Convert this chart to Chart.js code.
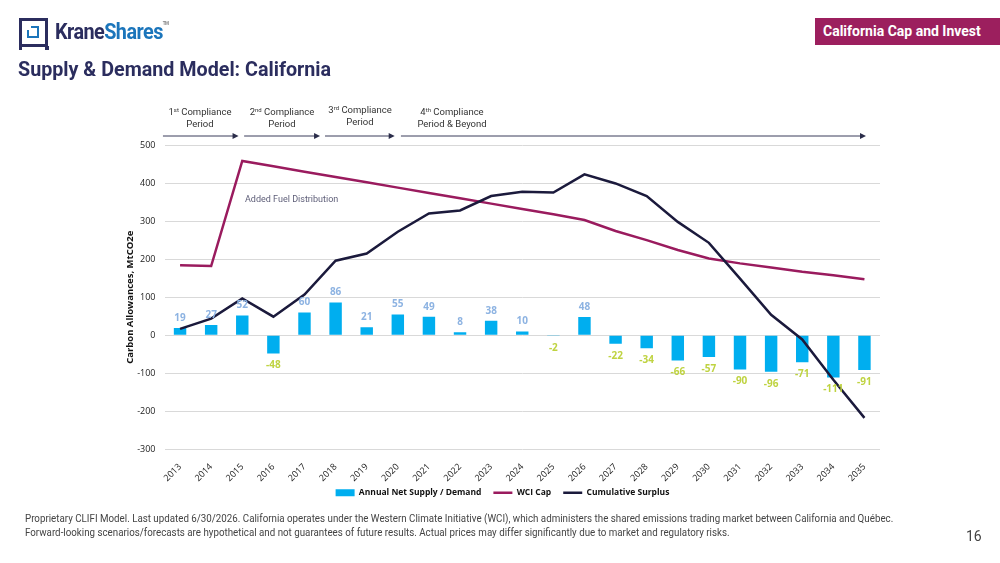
<!DOCTYPE html>
<html>
<head>
<meta charset="utf-8">
<script src="https://cdn.jsdelivr.net/npm/chart.js@4.4.1/dist/chart.umd.min.js"></script>
<style>
  body { margin: 0; background: #fff; }
  #page { position: relative; width: 1000px; height: 563px; overflow: hidden; font-family: Roboto, "Noto Sans", sans-serif; }
  #chartBox { position: absolute; left: 0; top: 0; width: 1000px; height: 563px; }
  .abs { position: absolute; white-space: nowrap; }
  .logo { left: 19px; top: 18px; width: 29px; height: 29px; border: 3.5px solid #2b2d5e; border-bottom-width: 3px; box-sizing: border-box; }
  .logo .sq { position: absolute; left: 5px; top: 5px; width: 12px; height: 12px; border: 2.5px solid #1b75bb; box-sizing: border-box; }
  .logo .gap { position: absolute; left: 4px; top: 4px; width: 5px; height: 5px; background: #fff; }
  .logo .leg1, .logo .leg2 { position: absolute; bottom: -6px; width: 3.5px; height: 4px; background: #2b2d5e; }
  .logo .leg1 { left: -3.5px; } .logo .leg2 { right: -3.5px; }
  .brand { left: 55px; top: 19px; font-size: 22px; font-weight: 700; color: #2b2d5e; letter-spacing: -0.6px; transform: scaleX(0.9); transform-origin: left center; }
  .brand span { color: #1b75bb; }
  .brand sup { font-size: 5px; color: #888; vertical-align: 14px; }
  .title { left: 18px; top: 57px; font-size: 20px; font-weight: 700; color: #2b2d5e; transform: scaleX(0.985); transform-origin: left center; }
  .tag { left: 815px; top: 18px; width: 185px; height: 27px; background: #9c1f5e; color: #fff; font-size: 14px; font-weight: 700; line-height: 27px; padding-left: 8px; box-sizing: border-box; }
  .cp { font-size: 9.5px; color: #333; text-align: center; line-height: 11.5px; transform: translateX(-50%); }
  .cp sup { font-size: 6px; vertical-align: 3px; line-height: 0; }
  .fuel { left: 245px; top: 194px; font-size: 9px; color: #5e5e78; }
  .foot { left: 25px; top: 512px; font-size: 10.5px; color: #444; line-height: 13.5px; transform: scaleX(0.93); transform-origin: left top; }
  .pg { left: 966px; top: 528px; font-size: 14px; color: #444; }
</style>
</head>
<body>
<div id="page">
  <div id="chartBox"><canvas id="chart"></canvas></div>
  <div class="abs logo"><div class="sq"></div><div class="gap"></div><div class="leg1"></div><div class="leg2"></div></div>
  <div class="abs brand">Krane<span>Shares</span><sup>TM</sup></div>
  <div class="abs title">Supply &amp; Demand Model: California</div>
  <div class="abs tag">California Cap and Invest</div>
  <div class="abs cp" style="left:200px;top:106px;">1<sup>st</sup> Compliance<br>Period</div>
  <div class="abs cp" style="left:282px;top:106px;">2<sup>nd</sup> Compliance<br>Period</div>
  <div class="abs cp" style="left:360px;top:104px;">3<sup>rd</sup> Compliance<br>Period</div>
  <div class="abs cp" style="left:452px;top:106px;">4<sup>th</sup> Compliance<br>Period &amp; Beyond</div>
  <div class="abs fuel">Added Fuel Distribution</div>
  <div class="abs foot">Proprietary CLIFI Model. Last updated 6/30/2026. California operates under the Western Climate Initiative (WCI), which administers the shared emissions trading market between California and Québec.<br>Forward-looking scenarios/forecasts are hypothetical and not guarantees of future results. Actual prices may differ significantly due to market and regulatory risks.</div>
  <div class="abs pg">16</div>
</div>
<script>
// years on the x axis
var years = ["2013", "2014", "2015", "2016", "2017", "2018", "2019", "2020", "2021", "2022", "2023", "2024",
  "2025", "2026", "2027", "2028", "2029", "2030", "2031", "2032", "2033", "2034", "2035"];

// annual net supply / demand (bars)
var netSupply = [19, 27, 52, -48, 60, 86, 21, 55, 49, 8, 38, 10, -2, 48, -22, -34, -66, -57, -90, -96, -71, -111, -91];

// WCI cap (line)
var wciCap = [184, 182, 458, 444, 430, 416, 402, 388, 374, 360, 346, 332, 318, 303, 274, 250, 224, 202, 189, 178, 167, 158, 147];

// cumulative surplus (line)
var cumSurplus = [17, 44, 97, 49, 107, 196, 215, 272, 320, 328, 366, 377, 375, 423, 399, 366, 298, 243, 149, 54, -11, -117, -217];

// y axis ticks
var yTicks = [-300, -200, -100, 0, 100, 200, 300, 400, 500];

// compliance period arrows, in category index units
var periodStart = [-0.55, 2.06, 4.66, 7.1];
var periodEnd = [1.88, 4.5, 6.9, 22.05];

// etichette sopra / sotto le barre
var barLabels = {
  id: "barLabels",
  beforeDraw: function(chart) {
    // le etichette ruotate dell'asse x non devono essere tagliate
    chart.scales.x._computeLabelArea = function() { return null; };
  },
  afterDatasetsDraw: function(chart) {
    var ctx = chart.ctx;
    var meta = chart.getDatasetMeta(0);
    ctx.save();
    ctx.font = "bold 10px 'Open Sans', sans-serif";
    ctx.textAlign = "center";
    ctx.textBaseline = "middle";
    meta.data.forEach(function(bar, i) {
      var v = netSupply[i];
      if (v >= 0) {
        ctx.fillStyle = "#8db3e2";
        ctx.fillText(v, bar.x, bar.y - 10);
      } else {
        ctx.fillStyle = "#bfd341";
        ctx.fillText(v, bar.x, bar.y + 12);
      }
    });
    ctx.restore();
  }
};

// frecce dei periodi
var periodArrows = {
  id: "periodArrows",
  afterDraw: function(chart) {
    var ctx = chart.ctx;
    var xs = chart.scales.x;
    var x0 = xs.getPixelForValue(0);
    var step = xs.getPixelForValue(1) - x0;
    var y = 136;
    ctx.save();
    ctx.strokeStyle = "#3a3c5a";
    ctx.fillStyle = "#2b2d4a";
    ctx.lineWidth = 1;
    for (var i = 0; i < periodStart.length; i++) {
      var a = x0 + periodStart[i] * step;
      var b = x0 + periodEnd[i] * step;
      ctx.beginPath();
      ctx.moveTo(a, y);
      ctx.lineTo(b - 5, y);
      ctx.stroke();
      ctx.beginPath();
      ctx.moveTo(b, y);
      ctx.lineTo(b - 6, y - 3);
      ctx.lineTo(b - 6, y + 3);
      ctx.closePath();
      ctx.fill();
    }
    ctx.restore();
  }
};

var ctx = document.getElementById("chart").getContext("2d");
new Chart(ctx, {
  type: "bar",
  data: {
    labels: years,
    datasets: [{
      type: "bar",
      label: "Annual Net Supply / Demand",
      data: netSupply,
      backgroundColor: "#00aeef",
      barPercentage: 0.5,
      categoryPercentage: 0.8,
      order: 3
    }, {
      type: "line",
      label: "WCI Cap",
      data: wciCap,
      borderColor: "#9a1b5e",
      backgroundColor: "#9a1b5e",
      borderWidth: 2.5,
      pointRadius: 0,
      tension: 0,
      order: 2
    }, {
      type: "line",
      label: "Cumulative Surplus",
      data: cumSurplus,
      borderColor: "#1b1a3c",
      backgroundColor: "#1b1a3c",
      borderWidth: 2.5,
      pointRadius: 0,
      tension: 0,
      order: 1
    }]
  },
  options: {
    responsive: true,
    maintainAspectRatio: false,
    animation: false,
    layout: { padding: { left: 125, right: 120, top: 145, bottom: 56 } },
    scales: {
      x: {
        grid: { display: false },
        border: { display: false },
        ticks: {
          minRotation: 45, maxRotation: 45, color: "#222",
          font: { size: 9, family: "'Open Sans', sans-serif" }, padding: 4
        },
        afterFit: function(s) { s.height = 27; }
      },
      y: {
        min: -300, max: 500,
        afterBuildTicks: function(s) { s.ticks = yTicks.map(function(v) { return { value: v }; }); },
        grid: { color: "#d9d9d9", drawTicks: false },
        border: { display: false },
        ticks: { color: "#222", font: { size: 9, family: "'Open Sans', sans-serif" }, padding: 9 },
        title: {
          display: true, text: "Carbon Allowances, MtCO2e", color: "#111",
          font: { size: 9.5, weight: "bold", family: "'Open Sans', sans-serif" }, padding: 0
        },
        afterFit: function(s) { s.width = 39.5; }
      }
    },
    plugins: {
      tooltip: { enabled: false },
      legend: {
        position: "bottom",
        labels: {
          usePointStyle: true,
          pointStyleWidth: 19,
          boxHeight: 7,
          padding: 12,
          color: "#111",
          font: { size: 8.5, weight: "bold", family: "'Open Sans', sans-serif" },
          sort: function(a, b) { return a.datasetIndex - b.datasetIndex; },
          generateLabels: function(chart) {
            var items = Chart.defaults.plugins.legend.labels.generateLabels(chart);
            items.forEach(function(it) {
              if (it.datasetIndex === 0) {
                it.pointStyle = "rect";
                it.lineWidth = 0;
              } else {
                it.pointStyle = "line";
                it.lineWidth = 2.5;
              }
            });
            return items;
          }
        }
      }
    }
  },
  plugins: [barLabels, periodArrows]
});
</script>
</body>
</html>
